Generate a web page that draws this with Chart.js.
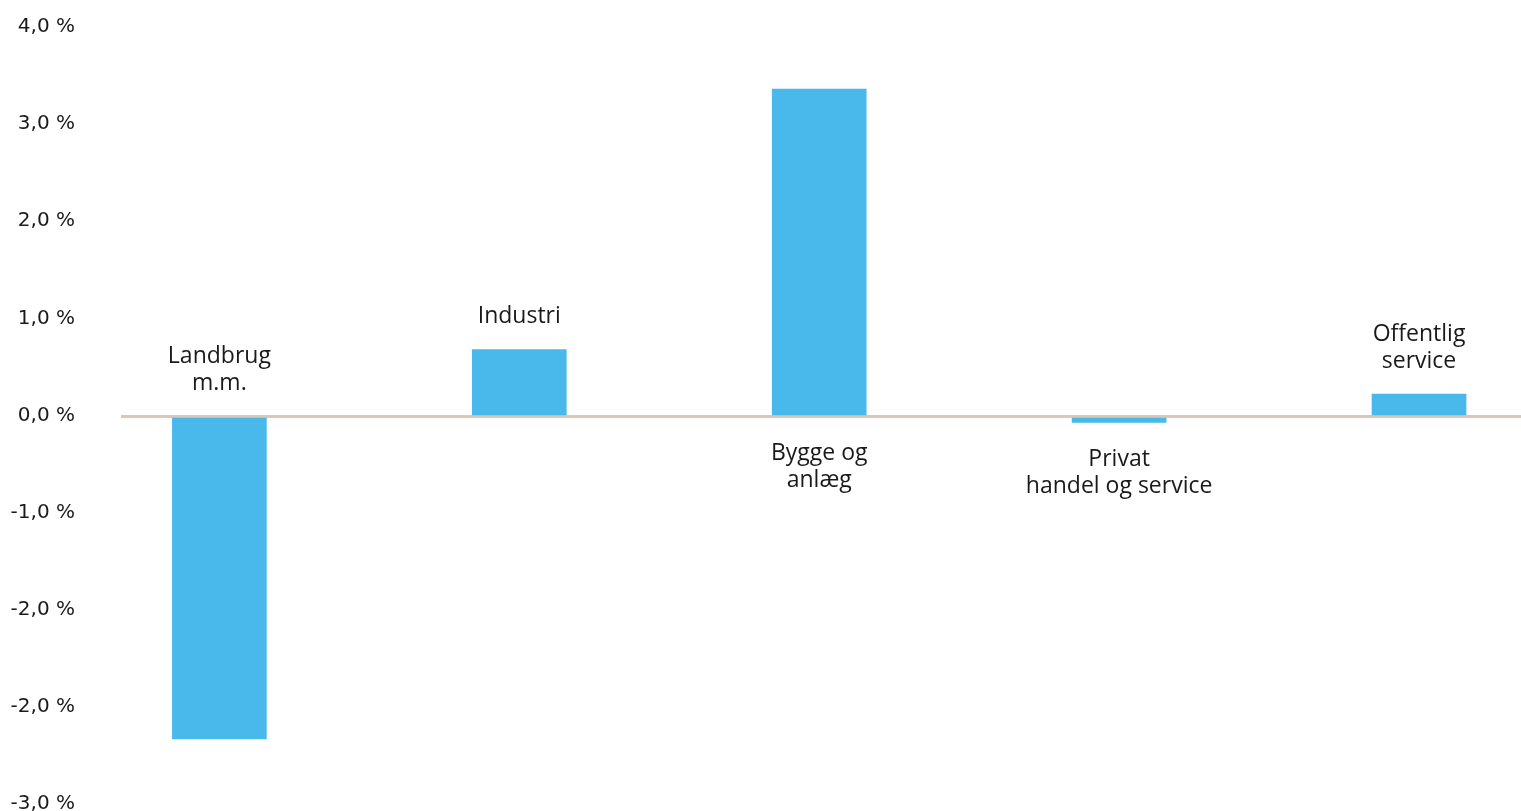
<!DOCTYPE html>
<html lang="da">

<head>
    <meta charset="UTF-8">
    <script src="https://cdn.jsdelivr.net/npm/chart.js"></script>
    <title>Brancher</title>
    <style>
        html, body { margin: 0; padding: 0; background: #fff; overflow: hidden; }
        canvas { display: block; }
    </style>
</head>

<body>
    <canvas id="grafik" width="1521" height="811"></canvas>
</body>
<script>
    // data
    const kategorier = [['Landbrug', 'm.m.'], ['Industri'], ['Bygge og', 'anlæg'], ['Privat', 'handel og service'], ['Offentlig', 'service']];
    const vaerdier = [-3.32, 0.69, 3.37, -0.06, 0.23];
    const placering = ['over', 'over', 'under', 'under', 'over'];
    const yLabels = ['4,0 %', '3,0 %', '2,0 %', '1,0 %', '0,0 %', '-1,0 %', '-2,0 %', '-2,0 %', '-3,0 %'];

    const punkter = vaerdier.map((v, i) => ({ x: i, y: v }));

    // tegner kategorinavnene ved søjlerne
    const navnePlugin = {
        id: 'navne',
        afterDatasetsDraw(chart) {
            const c = chart.ctx;
            const xs = chart.scales.x;
            const ys = chart.scales.y;
            c.save();
            c.font = "23px 'Open Sans', sans-serif";
            c.fillStyle = '#1a1a1a';
            c.textAlign = 'center';
            c.textBaseline = 'middle';
            const linje = 27;
            kategorier.forEach((navn, i) => {
                const x = xs.getPixelForValue(i);
                const v = vaerdier[i];
                if (placering[i] == 'over') {
                    const top = ys.getPixelForValue(Math.max(0, v));
                    navn.forEach((t, j) => {
                        c.fillText(t, x, top - 33 - (navn.length - 1 - j) * linje);
                    });
                } else {
                    const bund = ys.getPixelForValue(Math.min(0, v));
                    navn.forEach((t, j) => {
                        c.fillText(t, x, bund + 37 + j * linje);
                    });
                }
            });
            c.restore();
        }
    };

    const ctx = document.getElementById('grafik').getContext('2d');
    const grafik = new Chart(ctx, {
        type: 'bar',
        data: {
            datasets: [{
                data: punkter,
                backgroundColor: '#49B8EA',
                barThickness: 94,
                borderWidth: 0
            }]
        },
        options: {
            responsive: false,
            animation: false,
            layout: { padding: { top: 28, bottom: 6, left: 0, right: 0 } },
            plugins: {
                legend: { display: false },
                tooltip: { enabled: false }
            },
            scales: {
                x: {
                    type: 'linear',
                    min: -0.328,
                    max: 4.34,
                    offset: false,
                    display: false
                },
                y: {
                    min: -4,
                    max: 4,
                    afterFit(scale) {
                        scale.width = 121;
                        scale.paddingTop = 4;
                        scale.paddingBottom = 4;
                    },
                    border: { display: false },
                    grid: {
                        drawTicks: false,
                        color: (c) => c.tick && c.tick.value === 0 ? '#D9C8B5' : 'rgba(0,0,0,0)',
                        lineWidth: (c) => c.tick && c.tick.value === 0 ? 3 : 0
                    },
                    ticks: {
                        stepSize: 1,
                        padding: 46,
                        labelOffset: -1,
                        color: '#1a1a1a',
                        font: { family: "'DejaVu Sans', sans-serif", size: 20 },
                        callback: (v) => yLabels[4 - Math.round(v)]
                    }
                }
            }
        },
        plugins: [navnePlugin]
    });
</script>

</html>
